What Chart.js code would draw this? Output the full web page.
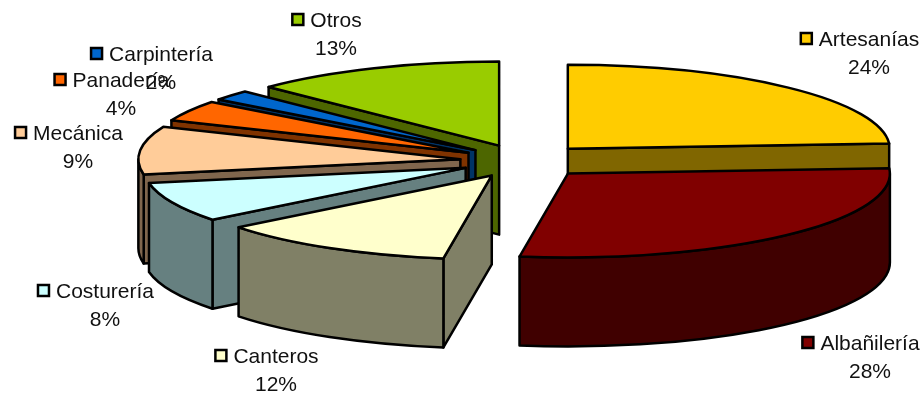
<!DOCTYPE html>
<html>
<head>
<meta charset="utf-8">
<style>
  html, body { margin: 0; background: #fff; overflow: hidden; }
</style>
<script src="https://cdn.jsdelivr.net/npm/chart.js@4"></script>
</head>
<body>
<canvas id="grafica" width="924" height="395"></canvas>
<script>
// categories and series, clockwise from 12 o'clock
// shares estimated from the slice edges, the labels show them rounded
const categories = ['Artesanías', 'Albañilería', 'Canteros', 'Costurería', 'Mecánica', 'Panadería', 'Carpintería', 'Otros'];
const shares = [24, 28.4, 12, 7.7, 9.2, 4, 2, 12.7];

const topColors = ['#FFCC00', '#800000', '#FFFFCC', '#CCFFFF', '#FFCC99', '#FF6600', '#0066CC', '#99CC00'];
const sideColors = ['#806600', '#400000', '#808066', '#668080', '#80664D', '#803300', '#003366', '#4D6600'];

// back to front, so nearer slices cover the ones behind
const paintOrder = [7, 6, 5, 4, 3, 2, 0, 1];

// where each label's name is centred (x) and its first line sits (y)
const labelSpots = [[869, 40], [870, 344], [276, 357], [105, 292], [78, 134], [121, 81], [161, 55], [336, 21]];

const explode = [64, 65, 64, 64, 64, 64, 64, 64];

const RX = 322;
const RY = 84;
const DEPTH = 89;

const fakePie3d = {
  id: 'fakePie3d',
  beforeDatasetsDraw(chart) {
    const ctx = chart.ctx;
    const arcs = chart.getDatasetMeta(0).data;
    ctx.save();
    ctx.lineWidth = 2.5;
    ctx.lineJoin = 'round';
    ctx.strokeStyle = '#000';

    paintOrder.forEach(i => {
      const arc = arcs[i];
      const a1 = arc.startAngle;
      const a2 = arc.endAngle;
      const mid = (a1 + a2) / 2;
      const off = arc.options.offset;
      const cx = arc.x + off * Math.cos(mid);
      const cy = arc.y + off * (RY / RX) * Math.sin(mid);
      const px = a => cx + RX * Math.cos(a);
      const py = a => cy + RY * Math.sin(a);

      ctx.fillStyle = sideColors[i];

      // cut faces, only when they look towards the viewer
      [[a1, Math.cos(a1) < 0], [a2, Math.cos(a2) > 0]].forEach(([a, facing]) => {
        if (!facing) return;
        ctx.beginPath();
        ctx.moveTo(cx, cy);
        ctx.lineTo(px(a), py(a));
        ctx.lineTo(px(a), py(a) + DEPTH);
        ctx.lineTo(cx, cy + DEPTH);
        ctx.closePath();
        ctx.fill();
        ctx.stroke();
      });

      // rim, front half of the ellipse only
      [[a1, a2], [a1 - 2 * Math.PI, a2 - 2 * Math.PI]].forEach(([s, e]) => {
        const from = Math.max(s, 0);
        const to = Math.min(e, Math.PI);
        if (to <= from) return;
        ctx.beginPath();
        ctx.ellipse(cx, cy, RX, RY, 0, from, to);
        ctx.lineTo(px(to), py(to) + DEPTH);
        ctx.ellipse(cx, cy + DEPTH, RX, RY, 0, to, from, true);
        ctx.closePath();
        ctx.fill();
        ctx.stroke();
      });

      // top face
      ctx.fillStyle = arc.options.backgroundColor;
      ctx.beginPath();
      ctx.moveTo(cx, cy);
      ctx.ellipse(cx, cy, RX, RY, 0, a1, a2);
      ctx.closePath();
      ctx.fill();
      ctx.stroke();
    });
    ctx.restore();
    return false;
  },
  afterDraw(chart) {
    const ctx = chart.ctx;
    ctx.save();
    ctx.font = '21px "Liberation Sans", Arial, sans-serif';
    ctx.textAlign = 'center';
    ctx.textBaseline = 'middle';
    categories.forEach((name, i) => {
      const [x, y] = labelSpots[i];
      ctx.fillStyle = '#111';
      ctx.fillText(name, x, y);
      ctx.fillText(shares[i].toFixed(0) + '%', x, y + 28);
      const left = x - ctx.measureText(name).width / 2 - 18;
      ctx.fillStyle = topColors[i];
      ctx.strokeStyle = '#000';
      ctx.lineWidth = 2.5;
      ctx.fillRect(left, y - 7, 11, 11);
      ctx.strokeRect(left, y - 7, 11, 11);
    });
    ctx.restore();
  }
};

new Chart(document.getElementById('grafica'), {
  type: 'pie',
  data: {
    labels: categories,
    datasets: [{
      data: shares,
      backgroundColor: topColors,
      offset: explode
    }]
  },
  options: {
    responsive: false,
    animation: false,
    layout: { padding: { left: 124, bottom: 73 } },
    plugins: { legend: { display: false }, tooltip: { enabled: false } }
  },
  plugins: [fakePie3d]
});
</script>
</body>
</html>
